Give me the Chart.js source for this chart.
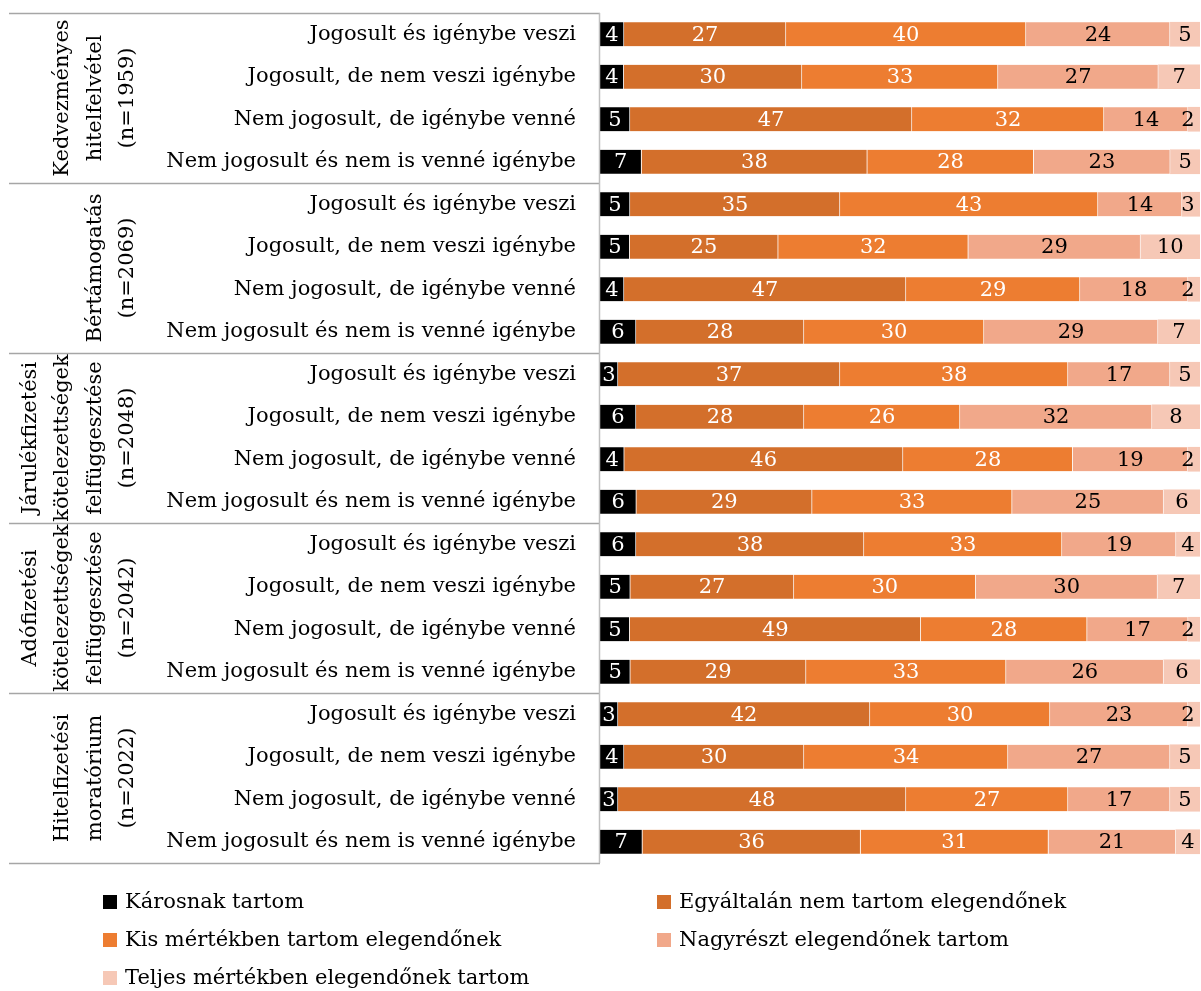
<!DOCTYPE html>
<html>
<head>
<meta charset="utf-8">
<script src="https://cdn.jsdelivr.net/npm/chart.js@4.4.1/dist/chart.umd.min.js"></script>
<style>
  body { margin: 0; background: #fff; }
  #wrap { width: 1201px; height: 991px; position: relative; }
</style>
</head>
<body>
<div id="wrap"><canvas id="chart"></canvas></div>
<script>
// groups (vertical labels on the left), 4 rows each
const groups = [
    ['Kedvezményes', 'hitelfelvétel', '(n=1959)'],
    ['Bértámogatás', '(n=2069)'],
    ['Járulékfizetési', 'kötelezettségek', 'felfüggesztése', '(n=2048)'],
    ['Adófizetési', 'kötelezettségek', 'felfüggesztése', '(n=2042)'],
    ['Hitelfizetési', 'moratórium', '(n=2022)']
];
const rowLabels = [
    'Jogosult és igénybe veszi',
    'Jogosult, de nem veszi igénybe',
    'Nem jogosult, de igénybe venné',
    'Nem jogosult és nem is venné igénybe'
];
const seriesNames = [
    'Károsnak tartom',
    'Egyáltalán nem tartom elegendőnek',
    'Kis mértékben tartom elegendőnek',
    'Nagyrészt elegendőnek tartom',
    'Teljes mértékben elegendőnek tartom'
];
const karosnak   = [4, 4, 5, 7,   5, 5, 4, 6,   3, 6, 4, 6,   6, 5, 5, 5,   3, 4, 3, 7];
const egyaltalan = [27, 30, 47, 38,   35, 25, 47, 28,   37, 28, 46, 29,   38, 27, 49, 29,   42, 30, 48, 36];
const kis        = [40, 33, 32, 28,   43, 32, 29, 30,   38, 26, 28, 33,   33, 30, 28, 33,   30, 34, 27, 31];
const nagyreszt  = [24, 27, 14, 23,   14, 29, 18, 29,   17, 32, 19, 25,   19, 30, 17, 26,   23, 27, 17, 21];
const teljes     = [5, 7, 2, 5,   3, 10, 2, 7,   5, 8, 2, 6,   4, 7, 2, 6,   2, 5, 5, 4];

const colors = ['#000000', '#D36F2B', '#ED7D31', '#F1A88A', '#F6C8B6'];
const labelColors = ['#ffffff', '#ffffff', '#ffffff', '#000000', '#000000'];
const FONT = '"DejaVu Serif", serif';

const raw = [karosnak, egyaltalan, kis, nagyreszt, teljes];
const labels = [];
groups.forEach(() => rowLabels.forEach(r => labels.push(r)));
// 100% stacked: each row scaled to its own total
const totals = labels.map((_, i) => raw.reduce((s, arr) => s + arr[i], 0));

const datasets = raw.map((arr, k) => ({
    label: seriesNames[k],
    data: arr.map((v, i) => v / totals[i] * 100),
    raw: arr,
    backgroundColor: colors[k],
    borderColor: 'rgba(255,255,255,0.5)',
    borderWidth: { right: k < 4 ? 1 : 0, left: 0, top: 0, bottom: 0 },
    borderSkipped: false,
    barThickness: 24
}));

const tablePlugin = {
    id: 'table',
    afterDraw(chart) {
        const ctx = chart.ctx;
        const y = chart.scales.y;
        const area = chart.chartArea;
        const step = y.getPixelForValue(1) - y.getPixelForValue(0);
        ctx.save();
        // value labels
        ctx.font = '21px ' + FONT;
        ctx.textAlign = 'center';
        ctx.textBaseline = 'middle';
        chart.data.datasets.forEach((ds, k) => {
            chart.getDatasetMeta(k).data.forEach((bar, i) => {
                ctx.fillStyle = labelColors[k];
                const cx = Math.min((bar.base + bar.x) / 2, area.right - 12);
                ctx.fillText(String(ds.raw[i]), cx, bar.y + 1);
            });
        });
        // separators
        ctx.strokeStyle = '#A6A6A6';
        ctx.lineWidth = 1.5;
        for (let g = 0; g <= groups.length; g++) {
            const yy = Math.round(y.getPixelForValue(g * 4) - step / 2) + 0.5;
            ctx.beginPath();
            ctx.moveTo(9, yy);
            ctx.lineTo(area.left, yy);
            ctx.stroke();
        }
        ctx.strokeStyle = '#BFBFBF';
        ctx.beginPath();
        ctx.moveTo(area.left - 0.5, area.top);
        ctx.lineTo(area.left - 0.5, area.bottom);
        ctx.stroke();
        // group labels, rotated
        ctx.fillStyle = '#000';
        ctx.font = '21px ' + FONT;
        groups.forEach((lines, g) => {
            const cy = (y.getPixelForValue(g * 4) + y.getPixelForValue(g * 4 + 3)) / 2;
            lines.forEach((line, j) => {
                const cx = 128 - (lines.length - 1 - j) * 32.5;
                ctx.save();
                ctx.translate(cx, cy);
                ctx.rotate(-Math.PI / 2);
                ctx.fillText(line, 0, 0);
                ctx.restore();
            });
        });
        // legend
        const pos = [[103, 902], [657, 902], [103, 940], [657, 940], [103, 978]];
        ctx.textAlign = 'left';
        ctx.font = '21px ' + FONT;
        chart.data.datasets.forEach((ds, k) => {
            const [lx, ly] = pos[k];
            ctx.fillStyle = ds.backgroundColor;
            ctx.fillRect(lx, ly - 7, 14, 14);
            ctx.fillStyle = '#000';
            ctx.fillText(ds.label, lx + 22, ly + 1);
        });
        ctx.restore();
    }
};

new Chart(document.getElementById('chart'), {
    type: 'bar',
    data: { labels: labels, datasets: datasets },
    options: {
        indexAxis: 'y',
        responsive: true,
        maintainAspectRatio: false,
        animation: false,
        layout: { padding: { top: 13, bottom: 128, left: 0, right: 1 } },
        plugins: { legend: { display: false }, tooltip: { enabled: false } },
        scales: {
            x: { stacked: true, min: 0, max: 100, display: false },
            y: {
                stacked: true,
                grid: { display: false, drawTicks: false },
                border: { display: false },
                ticks: { color: '#000', padding: 24, font: { family: FONT, size: 21 } },
                afterFit: scale => {
                    scale.width = 600;
                    scale.paddingTop = 0;
                    scale.paddingBottom = 0;
                }
            }
        }
    },
    plugins: [tablePlugin]
});
</script>
</body>
</html>
